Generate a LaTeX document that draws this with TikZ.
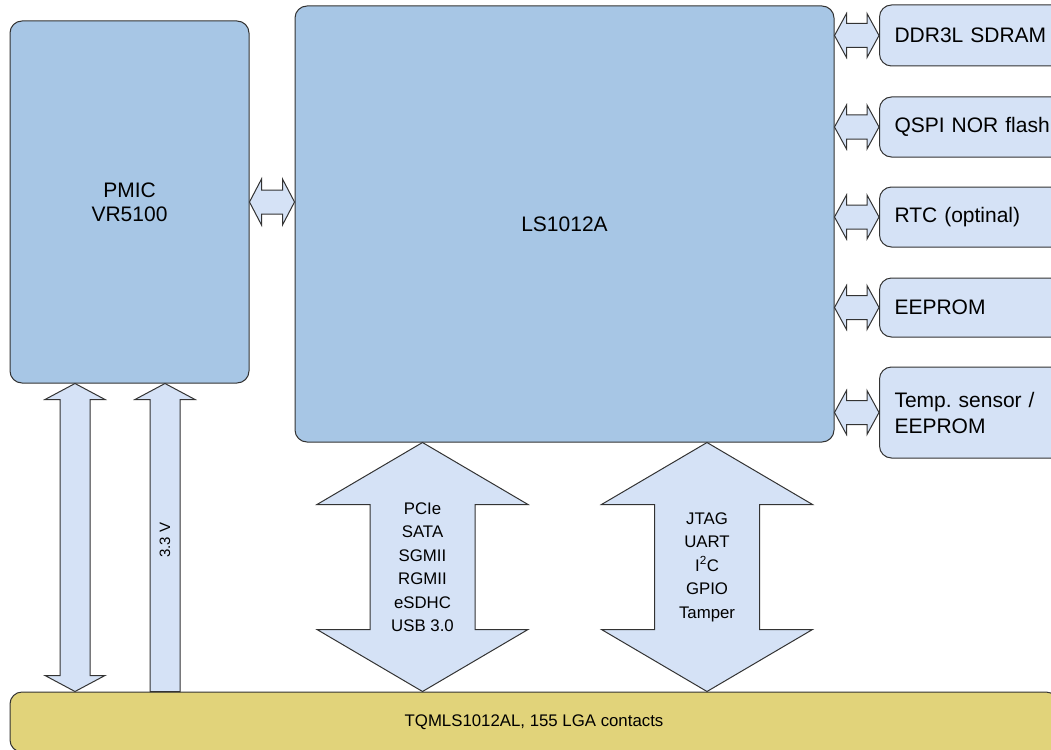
\documentclass[tikz,border=0pt]{standalone}
\usepackage{fontspec}
\setmainfont{Liberation Sans}
\usetikzlibrary{calc}
\frenchspacing
\definecolor{mainblue}{HTML}{A7C6E5}
\definecolor{lightblue}{HTML}{D5E2F6}
\definecolor{gold}{HTML}{E1D37A}
\definecolor{edge}{HTML}{333333}
\newcommand\harrow[5]{%
  \draw[arr] (#1) -- ($(#1)+(#3,-#4)$) -- ($(#1)+(#3,-#5)$) -- ($(#2)+(-#3,-#5)$) -- ($(#2)+(-#3,-#4)$) -- (#2)
    -- ($(#2)+(-#3,#4)$) -- ($(#2)+(-#3,#5)$) -- ($(#1)+(#3,#5)$) -- ($(#1)+(#3,#4)$) -- cycle;}
\newcommand\varrow[5]{%
  \draw[arr] (#1) -- ($(#1)+(#4,#3)$) -- ($(#1)+(#5,#3)$) -- ($(#2)+(#5,-#3)$) -- ($(#2)+(#4,-#3)$) -- (#2)
    -- ($(#2)+(-#4,-#3)$) -- ($(#2)+(-#5,-#3)$) -- ($(#1)+(-#5,#3)$) -- ($(#1)+(-#4,#3)$) -- cycle;}
\newcommand\uparrowblk[5]{%
  \draw[arr] (#1) -- ($(#1)+(#4,#3)$) -- ($(#1)+(#5,#3)$) -- ($(#2)+(#5,0)$) -- ($(#2)+(-#5,0)$)
    -- ($(#1)+(-#5,#3)$) -- ($(#1)+(-#4,#3)$) -- cycle;}
\begin{document}
\begin{tikzpicture}[x=1pt,y=-1pt,
  box/.style={draw=edge, line width=1pt, rounded corners=12pt, inner sep=0pt},
  bigbox/.style={box, fill=mainblue, align=center, font=\fontsize{21}{24}\selectfont},
  sidebox/.style={box, fill=lightblue, anchor=west, text width=170pt, inner xsep=15pt,
    align=left, font=\fontsize{21}{26}\selectfont},
  arr/.style={draw=edge, line width=1pt, fill=lightblue, line join=miter},
  atext/.style={align=center, font=\fontsize{16.8}{23.5}\selectfont}]
\useasboundingbox (0,0) rectangle (1051,749);
\clip (0,0) rectangle (1051,749);

\node[bigbox, minimum width=239pt, minimum height=362pt] (pmic) at (129.5,202) {PMIC\\VR5100};
\node[bigbox, minimum width=539pt, minimum height=436pt] (ls) at (564.5,224) {LS1012A};

\node[sidebox, minimum height=61pt] (ddr) at (879,35.5) {DDR3L SDRAM};
\node[sidebox, minimum height=60pt] (qspi) at (879,127) {QSPI NOR flash};
\node[sidebox, minimum height=60pt] (rtc) at (879,217) {RTC (optinal)};
\node[sidebox, minimum height=59pt] (eeprom) at (879,307.5) {EEPROM};
\node[sidebox, minimum height=91pt] (temp) at (879,412.5) {Temp. sensor /\\EEPROM};

\node[box, fill=gold, minimum width=1048pt, minimum height=60pt,
  font=\fontsize{16.8}{20}\selectfont] (lga) at (534,722) {TQMLS1012AL, 155 LGA contacts};

% PMIC <-> LS1012A
\harrow{pmic.east}{ls.west |- pmic.east}{12}{23}{12}
% LS1012A <-> peripherals
\harrow{ls.east |- ddr.west}{ddr.west}{12}{22}{12}
\harrow{ls.east |- qspi.west}{qspi.west}{12}{22}{12}
\harrow{ls.east |- rtc.west}{rtc.west}{12}{22}{12}
\harrow{ls.east |- eeprom.west}{eeprom.west}{12}{22}{12}
\harrow{ls.east |- temp.west}{temp.west}{12}{22}{12}

% PMIC <-> module
\coordinate (p1t) at (75,0 |- pmic.south);
\coordinate (p1b) at (75,0 |- lga.north);
\varrow{p1t}{p1b}{16}{30}{15}
\coordinate (p2t) at (165,0 |- pmic.south);
\coordinate (p2b) at (165,0 |- lga.north);
\uparrowblk{p2t}{p2b}{16}{30}{15}
\node[rotate=90, font=\fontsize{15}{18}\selectfont] (v33) at (165,540) {3.3 V};

% LS1012A <-> module buses
\coordinate (bat) at (422.5,0 |- ls.south);
\coordinate (bab) at (422.5,0 |- lga.north);
\varrow{bat}{bab}{62}{105.5}{52.5}
\node[atext] (busa) at ($(bat)!0.5!(bab)$) {PCIe\\SATA\\SGMII\\RGMII\\eSDHC\\USB 3.0};

\coordinate (bbt) at (707,0 |- ls.south);
\coordinate (bbb) at (707,0 |- lga.north);
\varrow{bbt}{bbb}{62}{105.5}{52.5}
\node[atext] (busb) at ($(bbt)!0.5!(bbb)$) {JTAG\\UART\\I\textsuperscript{2}C\\GPIO\\Tamper};
\end{tikzpicture}
\end{document}
